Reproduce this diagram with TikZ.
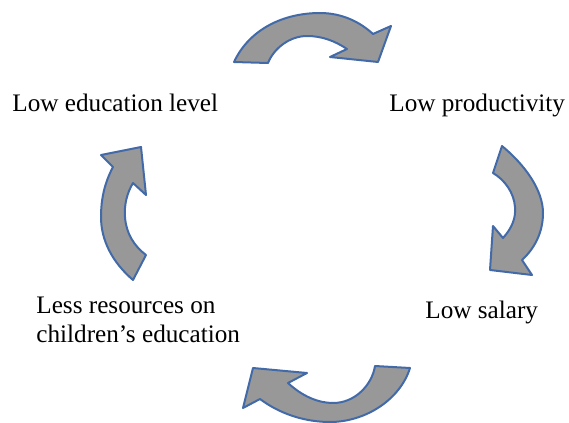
\documentclass[tikz,border=0pt]{standalone}
\usepackage{fontspec}
\setmainfont{Liberation Serif}
\usepackage{tikz}

\definecolor{arrowfill}{RGB}{152,152,152}
\definecolor{arrowline}{RGB}{66,106,168}

\begin{document}
\begin{tikzpicture}[x=0.5pt,y=-0.5pt,
    cyclearrow/.style={fill=arrowfill,draw=arrowline,line width=1pt,line join=round},
    label/.style={inner sep=0pt,font=\fontsize{12.6}{14}\selectfont}]
  \useasboundingbox (0,0) rectangle (569,423);

  \node[label,anchor=base west] (edu) at (12,112) {Low education level};
  \node[label,anchor=base west] (prod) at (389,112) {Low productivity};
  \node[label,anchor=base west] (salary) at (425,318) {Low salary};
  \node[label,anchor=base west,align=left] (resources) at (36,342)
    {Less resources on\\children's education};

  % top
  \draw[cyclearrow] (234,62) .. controls (250,28) and (285,13) .. (320,13)
    .. controls (342,13) and (360,22) .. (373,34)
    -- (391,26) -- (378,62) -- (330,57) -- (347,49)
    .. controls (335,41) and (322,36) .. (307,36)
    .. controls (290,36) and (274,48) .. (268,63) -- cycle;
  % right
  \draw[cyclearrow] (502,146) .. controls (525,165) and (543,190) .. (543,213)
    .. controls (543,232) and (535,248) .. (522,260)
    -- (532,275) -- (490,270) -- (493,226) -- (503,238)
    .. controls (512,228) and (516,218) .. (515,207)
    .. controls (514,193) and (505,180) .. (493,173) -- cycle;
  % bottom
  \draw[cyclearrow] (410,368) .. controls (400,400) and (365,422) .. (330,422)
    .. controls (305,422) and (280,414) .. (260,399)
    -- (243,408) -- (253,368) -- (307,373) -- (288,383)
    .. controls (302,396) and (318,403) .. (333,403)
    .. controls (355,403) and (372,385) .. (375,366) -- cycle;
  % left
  \draw[cyclearrow] (133,280) .. controls (112,262) and (101,240) .. (101,217)
    .. controls (101,198) and (105,182) .. (113,167)
    -- (101,155) -- (141,147) -- (146,195) -- (133,183)
    .. controls (127,193) and (124,205) .. (125,217)
    .. controls (126,233) and (134,246) .. (146,255) -- cycle;
\end{tikzpicture}
\end{document}
